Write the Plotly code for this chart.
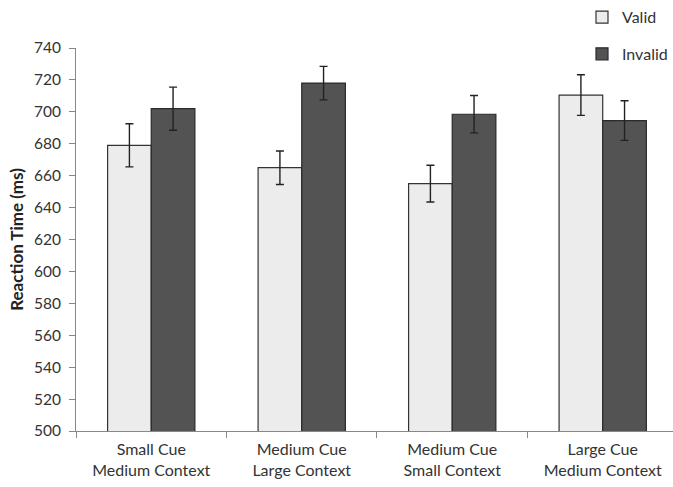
import plotly.graph_objects as go

categories = ["Small Cue<br>Medium Context", "Medium Cue<br>Large Context",
              "Medium Cue<br>Small Context", "Large Cue<br>Medium Context"]
valid = [679, 665, 655, 710.5]
valid_err = [13.5, 10.5, 11.5, 12.7]
invalid = [702, 718, 698.5, 694.5]
invalid_err = [13.5, 10.5, 11.7, 12.4]
y_ticks = list(range(500, 741, 20))

FONT = "Lato, 'Open Sans', sans-serif"

fig = go.Figure()
fig.add_trace(go.Bar(
    x=categories, y=valid, name="Valid", legendgroup="v",
    marker=dict(color="#ececec", line=dict(color="#333333", width=1.2)),
    error_y=dict(type="data", array=valid_err, color="#222222", thickness=1.4, width=4),
))
fig.add_trace(go.Bar(
    x=categories, y=invalid, name="Invalid", legendgroup="i",
    marker=dict(color="#535353", line=dict(color="#2a2a2a", width=1.2)),
    error_y=dict(type="data", array=invalid_err, color="#222222", thickness=1.4, width=4),
))

fig.update_layout(
    width=673, height=487,
    margin=dict(l=76, r=0, t=48, b=56),
    paper_bgcolor="white", plot_bgcolor="white",
    barmode="group", bargap=0.42, bargroupgap=0,
    font=dict(family=FONT, size=16, color="#333333"),
    legend=dict(x=1, xanchor="right", y=1.125, yanchor="top",
                traceorder="grouped", tracegroupgap=13,
                font=dict(size=16, color="#333333"),
                bgcolor="rgba(0,0,0,0)", itemwidth=30),
    showlegend=True,
)
fig.update_yaxes(
    range=[500, 740], tickvals=y_ticks, ticks="outside", ticklen=6,
    tickcolor="#888888", showline=True, linecolor="#888888", linewidth=1,
    showgrid=False, zeroline=False, tickfont=dict(size=15.5, color="#333333"),
    ticklabelstandoff=5,
    title=dict(text="<b>Reaction Time (ms)</b>", font=dict(size=17, color="#222222"), standoff=5),
)
fig.update_xaxes(
    range=[-0.5, 3.467], showline=True, linecolor="#888888", linewidth=1,
    ticks="outside", tickson="boundaries", ticklen=6, tickcolor="#888888",
    showgrid=False, tickfont=dict(size=16, color="#333333"),
    ticklabelstandoff=4,
)

fig.write_html("out.html", config={"displayModeBar": False},
               post_script="document.body.style.margin='0';document.body.style.overflow='hidden';")
